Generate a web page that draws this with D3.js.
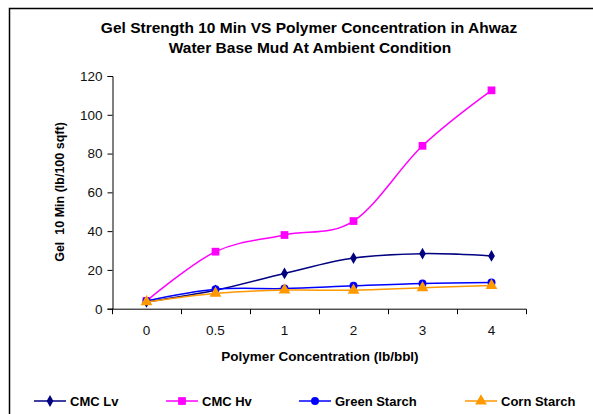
<!DOCTYPE html>
<html>
<head>
<meta charset="utf-8">
<script src="https://cdn.jsdelivr.net/npm/d3@7"></script>
<style>
  body { margin: 0; background: #fff; }
  text { font-family: "Liberation Sans", Arial, sans-serif; fill: #000; }
</style>
</head>
<body>
<svg id="chart" width="593" height="414"></svg>
<script>
var width = 593, height = 414;

var categories = ["0", "0.5", "1", "2", "3", "4"];
var cmcLv = [3.5, 9.5, 18.2, 26.1, 28.4, 27.2];
var cmcHv = [4, 29.4, 38, 45.2, 84, 112.6];
var greenStarch = [4, 10, 10.4, 11.8, 13, 13.5];
var cornStarch = [3.5, 7.9, 9.6, 9.5, 10.8, 11.9];
var yTicks = [0, 20, 40, 60, 80, 100, 120];

var series = [
  { name: "CMC Lv", values: cmcLv, color: "#000080", marker: "diamond", lx: 34 },
  { name: "CMC Hv", values: cmcHv, color: "#FF00FF", marker: "square", lx: 166 },
  { name: "Green Starch", values: greenStarch, color: "#0000FF", marker: "circle", lx: 299 },
  { name: "Corn Starch", values: cornStarch, color: "#FF9900", marker: "triangle", lx: 465 }
];

var svg = d3.select("#chart");

// outer chart frame (runs off the right and bottom edges)
svg.append("rect")
    .attr("x", 9.5).attr("y", 8.5)
    .attr("width", 700).attr("height", 500)
    .attr("fill", "none").attr("stroke", "#000").attr("stroke-width", 1.5);

var x = d3.scaleBand().domain(categories).range([112, 526]);
var y = d3.scaleLinear().domain([0, 120]).range([308.7, 76]);

// title
svg.append("text").attr("x", 309).attr("y", 33).attr("text-anchor", "middle")
    .style("font-weight", "bold").style("font-size", "15.5px")
    .text("Gel Strength 10 Min VS Polymer Concentration in Ahwaz");
svg.append("text").attr("x", 310).attr("y", 53).attr("text-anchor", "middle")
    .style("font-weight", "bold").style("font-size", "15.5px")
    .text("Water Base Mud At Ambient Condition");

// y axis
var yAxis = svg.append("g").attr("transform", "translate(112.5,0)")
    .call(d3.axisLeft(y).tickValues(yTicks).tickSize(5).tickPadding(5));
yAxis.selectAll("text").style("font-size", "13.5px").style("fill", "#111");
yAxis.select(".domain").attr("stroke", "#000");

// x axis: ticks on category boundaries
var xAxisG = svg.append("g").attr("transform", "translate(0," + (y(0) + 0.5) + ")");
xAxisG.append("line").attr("x1", 112).attr("x2", 526.5)
    .attr("stroke", "#000");
var bounds = categories.map(function (c) { return x(c); }).concat([x.range()[1]]);
xAxisG.selectAll(".tk").data(bounds).enter().append("line")
    .attr("x1", function (d) { return d + 0.5; }).attr("x2", function (d) { return d + 0.5; })
    .attr("y1", 0).attr("y2", 5).attr("stroke", "#000");
xAxisG.selectAll(".lbl").data(categories).enter().append("text")
    .attr("x", function (d) { return x(d) + x.bandwidth() / 2; })
    .attr("y", 26).attr("text-anchor", "middle")
    .style("font-size", "13.5px").style("fill", "#111")
    .text(function (d) { return d; });

// axis titles
svg.append("text").attr("x", 320).attr("y", 361).attr("text-anchor", "middle")
    .style("font-weight", "bold").style("font-size", "13.5px")
    .text("Polymer Concentration (lb/bbl)");
svg.append("text")
    .attr("transform", "translate(64,192) rotate(-90)")
    .attr("text-anchor", "middle")
    .style("font-weight", "bold").style("font-size", "12.5px")
    .style("white-space", "pre")
    .text("Gel  10 Min (lb/100 sqft)");

var line = d3.line()
    .x(function (d, i) { return x(categories[i]) + x.bandwidth() / 2; })
    .y(function (d) { return y(d); })
    .curve(d3.curveCardinal.tension(0));

function marker(g, type, color) {
  var sym = {
    diamond: d3.symbol().type(d3.symbolDiamond).size(40),
    square: d3.symbol().type(d3.symbolSquare).size(60),
    circle: d3.symbol().type(d3.symbolCircle).size(50),
    triangle: d3.symbol().type(d3.symbolTriangle).size(60)
  }[type];
  g.append("path").attr("d", sym()).attr("fill", color).attr("stroke", "none");
}

series.forEach(function (s) {
  svg.append("path").datum(s.values)
      .attr("d", line).attr("fill", "none")
      .attr("stroke", s.color).attr("stroke-width", 1.5);
  s.values.forEach(function (v, i) {
    var g = svg.append("g").attr("transform",
        "translate(" + (x(categories[i]) + x.bandwidth() / 2) + "," + y(v) + ")");
    marker(g, s.marker, s.color);
  });
});

// legend
series.forEach(function (s) {
  var g = svg.append("g").attr("transform", "translate(" + s.lx + ",401)");
  g.append("line").attr("x1", 0).attr("x2", 32).attr("stroke", s.color).attr("stroke-width", 1.5);
  var m = g.append("g").attr("transform", "translate(16,0)");
  marker(m, s.marker, s.color);
  g.append("text").attr("x", 36).attr("y", 5)
      .style("font-weight", "bold").style("font-size", "13px")
      .text(s.name);
});
</script>
</body>
</html>
